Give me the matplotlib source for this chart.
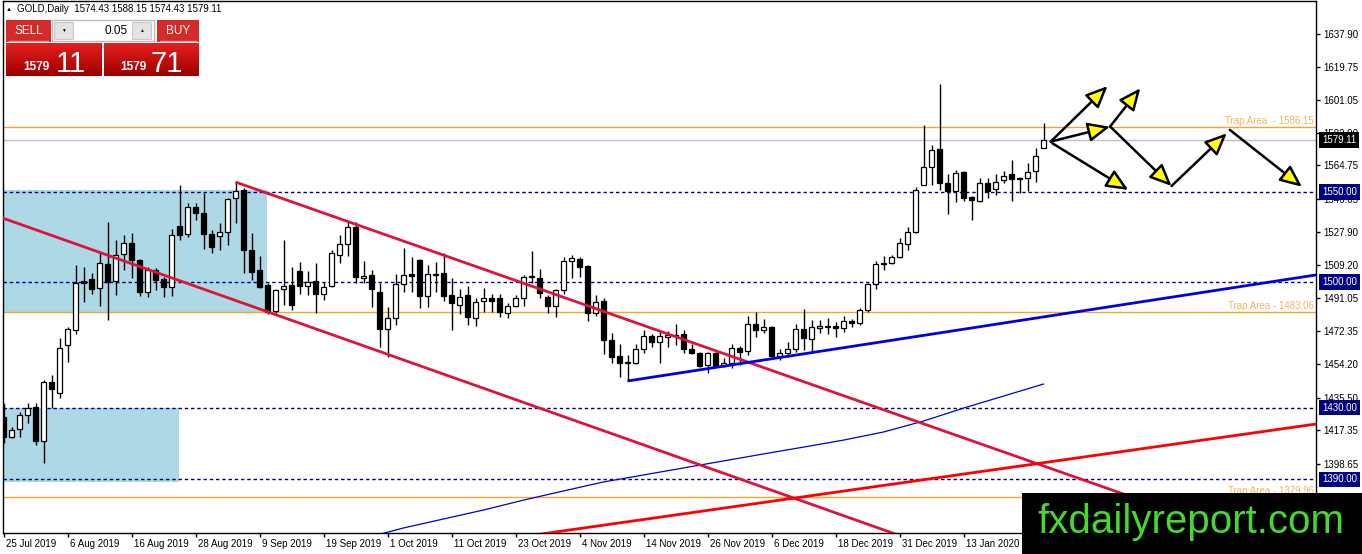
import numpy as np
import matplotlib.pyplot as plt
import matplotlib.transforms as mtransforms
from matplotlib.patches import Rectangle

plt.rcParams['font.family'] = ['Liberation Sans', 'DejaVu Sans']

# GOLD daily candles, 25 Jul 2019 .. 27 Jan 2020
opens = [1424.7, 1413.6, 1418.1, 1425.8, 1430.3, 1411.4, 1444.2, 1438.1, 1464.8, 1473.2,
         1500.4, 1501.5, 1496.5, 1509.9, 1500.4, 1515.5, 1521.6, 1512.1, 1494.3, 1506.5,
         1501.5, 1497.1, 1531.0, 1526.6, 1541.6, 1538.3, 1526.6, 1525.4, 1527.7, 1546.6,
         1551.1, 1517.7, 1506.5, 1498.2, 1483.8, 1495.9, 1498.2, 1506.0, 1497.6, 1500.4,
         1493.2, 1497.6, 1514.9, 1521.0, 1530.5, 1502.1, 1503.8, 1494.3, 1473.7, 1479.8,
         1498.7, 1504.3, 1512.1, 1492.1, 1504.3, 1504.9, 1492.6, 1487.1, 1492.6, 1479.8,
         1489.3, 1491.0, 1491.0, 1482.6, 1486.5, 1491.0, 1502.7, 1502.1, 1491.5, 1486.5,
         1495.4, 1511.5, 1512.6, 1508.8, 1482.6, 1489.3, 1467.6, 1458.7, 1455.3, 1454.8,
         1462.6, 1469.8, 1466.5, 1469.3, 1470.4, 1470.9, 1462.6, 1460.3, 1453.7, 1460.3,
         1453.1, 1454.8, 1463.1, 1461.5, 1476.5, 1473.2, 1474.8, 1458.7, 1460.3, 1462.6,
         1473.7, 1468.1, 1474.3, 1475.0, 1475.4, 1474.3, 1478.2, 1477.1, 1484.3, 1498.7,
         1510.4, 1510.4, 1513.8, 1521.0, 1527.7, 1553.9, 1563.9, 1573.9, 1555.0, 1550.5,
         1561.1, 1547.2, 1544.9, 1555.0, 1551.6, 1556.6, 1560.0, 1557.7, 1557.7, 1561.6,
         1574.43]
highs = [1432.5, 1419.2, 1427.5, 1432.5, 1432.5, 1445.3, 1448.1, 1468.7, 1474.8, 1509.3,
         1508.2, 1504.9, 1516.0, 1533.3, 1523.2, 1526.0, 1527.1, 1512.5, 1508.2, 1507.6,
         1502.6, 1529.4, 1553.9, 1543.8, 1543.8, 1549.4, 1528.8, 1532.7, 1546.8, 1555.5,
         1552.2, 1527.1, 1514.3, 1499.3, 1495.9, 1523.2, 1508.2, 1511.0, 1506.0, 1510.4,
         1499.9, 1517.7, 1526.0, 1533.3, 1533.3, 1511.5, 1506.5, 1499.3, 1485.9, 1504.3,
         1518.8, 1513.8, 1512.6, 1509.3, 1511.0, 1516.0, 1502.1, 1496.0, 1497.6, 1491.0,
         1496.5, 1493.2, 1493.2, 1488.2, 1492.6, 1503.8, 1517.1, 1507.1, 1492.6, 1495.9,
         1513.8, 1514.9, 1513.8, 1509.3, 1492.6, 1491.0, 1471.5, 1465.4, 1459.3, 1465.4,
         1473.2, 1470.9, 1472.1, 1472.6, 1476.6, 1473.2, 1465.4, 1460.9, 1460.9, 1460.9,
         1457.6, 1465.4, 1464.3, 1480.9, 1483.2, 1479.3, 1475.4, 1462.6, 1466.5, 1476.5,
         1484.9, 1478.7, 1478.7, 1479.8, 1477.6, 1480.9, 1479.3, 1485.4, 1499.3, 1511.5,
         1514.3, 1514.9, 1524.3, 1530.5, 1552.7, 1587.3, 1576.1, 1610.1, 1560.0, 1562.2,
         1561.5, 1547.7, 1557.7, 1557.7, 1560.0, 1561.6, 1567.8, 1558.3, 1566.1, 1574.4,
         1588.15]
lows = [1410.2, 1413.0, 1413.6, 1421.4, 1409.1, 1399.1, 1429.7, 1435.3, 1455.3, 1470.9,
        1488.7, 1493.2, 1486.5, 1478.7, 1492.6, 1506.5, 1502.1, 1492.1, 1491.5, 1495.4,
        1491.5, 1492.1, 1523.2, 1524.9, 1534.4, 1518.2, 1516.0, 1517.7, 1520.4, 1532.7,
        1504.9, 1501.0, 1496.5, 1482.0, 1482.7, 1487.1, 1484.3, 1493.2, 1492.6, 1482.6,
        1489.9, 1497.1, 1510.4, 1514.3, 1499.3, 1499.3, 1485.9, 1463.7, 1458.1, 1475.7,
        1494.3, 1494.3, 1485.4, 1485.9, 1494.3, 1489.4, 1473.2, 1482.1, 1475.9, 1475.4,
        1483.2, 1483.2, 1480.4, 1479.8, 1485.9, 1486.5, 1499.3, 1491.0, 1482.6, 1480.4,
        1493.2, 1502.1, 1502.6, 1478.2, 1481.0, 1459.8, 1454.8, 1447.0, 1444.8, 1454.2,
        1460.3, 1463.7, 1454.8, 1463.7, 1464.8, 1460.3, 1459.8, 1452.6, 1449.2, 1452.6,
        1452.6, 1452.0, 1453.7, 1459.3, 1469.3, 1471.5, 1457.6, 1456.5, 1458.1, 1460.9,
        1462.0, 1460.9, 1471.5, 1471.0, 1469.3, 1472.1, 1474.8, 1475.9, 1483.2, 1496.0,
        1506.5, 1509.9, 1513.2, 1517.7, 1527.1, 1553.9, 1553.9, 1551.1, 1537.7, 1544.4,
        1544.9, 1534.4, 1544.4, 1546.6, 1548.3, 1554.9, 1544.9, 1549.4, 1550.5, 1555.5,
        1574.43]
closes = [1413.6, 1417.5, 1425.8, 1429.7, 1411.4, 1444.2, 1440.3, 1463.1, 1473.7, 1499.3,
          1499.3, 1496.0, 1510.4, 1499.9, 1514.9, 1521.6, 1512.1, 1494.3, 1506.5, 1501.0,
          1497.1, 1526.0, 1526.0, 1541.6, 1538.3, 1526.6, 1519.3, 1527.7, 1546.0, 1550.5,
          1517.7, 1505.4, 1497.1, 1483.2, 1495.4, 1497.6, 1487.1, 1497.6, 1499.9, 1493.2,
          1497.1, 1516.0, 1521.0, 1530.5, 1502.7, 1503.2, 1496.0, 1473.7, 1479.8, 1498.7,
          1503.8, 1503.2, 1492.1, 1504.3, 1503.8, 1492.1, 1488.2, 1491.5, 1480.4, 1488.7,
          1491.0, 1489.3, 1483.2, 1486.5, 1491.0, 1502.7, 1503.2, 1493.7, 1486.5, 1495.4,
          1511.5, 1513.2, 1508.2, 1482.6, 1488.7, 1467.6, 1458.1, 1454.8, 1454.8, 1462.6,
          1469.8, 1466.5, 1469.8, 1470.4, 1469.8, 1462.6, 1460.3, 1453.1, 1460.3, 1453.1,
          1454.8, 1463.1, 1460.9, 1476.5, 1473.2, 1474.8, 1458.7, 1460.3, 1462.6, 1473.7,
          1468.7, 1474.8, 1475.4, 1475.6, 1474.3, 1478.2, 1477.1, 1484.3, 1498.7, 1509.9,
          1509.9, 1513.8, 1521.6, 1527.7, 1551.1, 1563.9, 1573.3, 1555.0, 1550.5, 1560.5,
          1546.6, 1545.5, 1555.0, 1550.5, 1555.5, 1558.9, 1557.2, 1557.2, 1561.1, 1570.0,
          1579.11]

date_pos = [0, 8, 16, 24, 32, 40, 48, 56, 64, 72, 80, 88, 96, 104, 112, 120]
date_labels = ["25 Jul 2019", "6 Aug 2019", "16 Aug 2019", "28 Aug 2019", "9 Sep 2019",
               "19 Sep 2019", "1 Oct 2019", "11 Oct 2019", "23 Oct 2019", "4 Nov 2019",
               "14 Nov 2019", "26 Nov 2019", "6 Dec 2019", "18 Dec 2019", "31 Dec 2019",
               "13 Jan 2020"]

price_ticks = [1637.90, 1619.75, 1601.05, 1582.90, 1564.75, 1546.05, 1527.90, 1509.20,
               1491.05, 1472.35, 1454.20, 1435.50, 1417.35, 1398.65, 1380.50]

dashed_levels = [1550.00, 1500.00, 1430.00, 1390.00]
trap_levels = [1586.15, 1483.06, 1379.96]
trap_texts = ["Trap Area  - 1586.15", "Trap Area - 1483.06", "Trap Area - 1379.96"]
last_price = 1579.11

# moving average (thin blue)
ma_bars = [47, 50, 55, 60, 65, 70, 75, 80, 85, 90, 95, 100, 105, 110, 115, 120, 125, 130]
ma_vals = [1359.5, 1363.0, 1368.0, 1373.0, 1378.5, 1383.6, 1388.6, 1392.5, 1396.4, 1400.3,
           1404.2, 1408.0, 1411.9, 1416.4, 1422.5, 1429.7, 1436.4, 1443.1]

# boxes: (bar_from, bar_to, price_low, price_high)
zones = [(-5, 32.9, 1483.06, 1551.0), (-5, 21.9, 1388.6, 1430.0)]

# trendlines: two anchors (bar, price), colour, width, extend to the left
trendlines = [
    (0, 1535.3, 33, 1483.3, '#DC143C', 2, True),
    (29, 1555.5, 139.6, 1382.5, '#DC143C', 2, False),
    (78, 1444.8, 120, 1473.6, '#0000E0', 2, False),
    (68.9, 1360.7, 120, 1393.0, '#FF0000', 2, True),
]

# scenario arrows (bar, price) -> (bar, price)
arrows = [
    (130.9, 1578.0, 138.0, 1608.9),
    (130.9, 1578.0, 138.3, 1586.3),
    (131.1, 1577.1, 140.6, 1551.1),
    (138.3, 1586.3, 142.1, 1607.7),
    (138.4, 1586.1, 146.0, 1553.3),
    (146.0, 1553.3, 152.9, 1582.6),
    (153.3, 1584.5, 162.3, 1552.9),
]

W, H = 1362, 554
fig = plt.figure(figsize=(W / 100, H / 100), dpi=100)
ax = fig.add_axes([2.5 / W, (H - 533) / H, (1316 - 2.5) / W, 532 / H])
xmin, xmax = -0.125, 164.06
ax.set_xlim(xmin, xmax)
ax.set_ylim(1360.2, 1656.26)

for b0, b1, lo, hi in zones:
    ax.add_patch(Rectangle((b0, lo), b1 - b0, hi - lo, fc='#ADD8E6', ec='none', zorder=0.5))

for lv in dashed_levels:
    ax.axhline(lv, color='#000080', lw=1, ls=(0, (2.5, 2)), zorder=1)
for lv, txt in zip(trap_levels, trap_texts):
    ax.axhline(lv, color='#F4A62A', lw=1, zorder=1)
    ax.text(163.8, lv + 0.8, txt, ha='right', va='bottom', fontsize=7, color='#F3B55C', zorder=5)
ax.axhline(last_price, color='#C0C0C0', lw=1, zorder=1)

ax.plot(ma_bars, ma_vals, color='#0000CD', lw=0.9, zorder=1.5)

# candles
o = np.array(opens)
c = np.array(closes)
x = np.arange(len(o))
up = c >= o
ax.vlines(x, lows, highs, color='black', lw=1, zorder=3)
lo_b = np.minimum(o, c)
h_b = np.maximum(np.abs(c - o), 0.45)
ax.bar(x[up], h_b[up], bottom=lo_b[up], width=0.62, color='white', edgecolor='black', lw=0.9, zorder=4)
ax.bar(x[~up], h_b[~up], bottom=lo_b[~up], width=0.62, color='black', edgecolor='black', lw=0.9, zorder=4)

for b0, p0, b1, p1, col, lw, left in trendlines:
    k = (p1 - p0) / (b1 - b0)
    start = xmin - 1 if left else b0
    end = xmax + 1
    ax.plot([start, end], [p0 + k * (start - b0), p0 + k * (end - b0)], color=col, lw=lw,
            zorder=5, solid_capstyle='butt')

for b0, p0, b1, p1 in arrows:
    ax.annotate('', xy=(b1, p1), xytext=(b0, p0),
                arrowprops=dict(arrowstyle='-|>,head_length=0.95,head_width=0.42', fc='#FFFF00',
                                ec='black', lw=1.8, mutation_scale=14, shrinkA=0, shrinkB=0),
                zorder=6)

# axes styling like the terminal
for s in ax.spines.values():
    s.set_color('black')
    s.set_linewidth(1)
ax.yaxis.tick_right()
ax.set_yticks(price_ticks)
ax.set_yticklabels([f'{v:.2f}' for v in price_ticks])
ax.tick_params(axis='y', direction='out', length=3, width=1, pad=2.5, labelsize=7)
ax.set_xticks(date_pos)
ax.set_xticklabels(date_labels)
ax.tick_params(axis='x', direction='out', length=3, width=1, pad=1.5, labelsize=7)
shift = mtransforms.ScaledTranslation(2 / 100, 0, fig.dpi_scale_trans)
for lbl in ax.get_xticklabels():
    lbl.set_ha('left')
    lbl.set_transform(lbl.get_transform() + shift)

ytr = ax.get_yaxis_transform()
for lv in dashed_levels:
    ax.text(1.0045, lv, f'{lv:.2f}', transform=ytr, ha='left', va='center', fontsize=7,
            color='white', clip_on=False, zorder=10,
            bbox=dict(boxstyle='square,pad=0.3', fc='#000080', ec='none'))
ax.text(1.0045, last_price, f'{last_price:.2f}', transform=ytr, ha='left', va='center',
        fontsize=7, color='white', clip_on=False, zorder=10,
        bbox=dict(boxstyle='square,pad=0.3', fc='black', ec='none'))

# overlay in pixel units for the terminal widgets and watermark
ov = fig.add_axes([0, 0, 1, 1], zorder=10)
ov.set_axis_off()
ov.patch.set_alpha(0)


def box(x0, y0, x1, y1, **kw):
    ov.add_patch(Rectangle((x0, y0), x1 - x0, y1 - y0, **kw))


ov.text(6, 9.5, '\u25b2', fontsize=4.5, va='center', ha='left')
ov.text(17, 9.5, 'GOLD,Daily  1574.43 1588.15 1574.43 1579.11', fontsize=7, va='center', ha='left')

box(6, 20, 51, 42, fc='#D42A2A', ec='none')
ov.plot([9, 48], [40.5, 40.5], color='#F39A9A', lw=1)
ov.text(28.5, 31, 'SELL', color='white', fontsize=8.5, ha='center', va='center')
box(52, 20, 154, 41, fc='white', ec='#BDBDBD', lw=1)
box(54, 22, 73, 39, fc='#E4E4E4', ec='#C8C8C8', lw=0.8)
box(132, 22, 151, 39, fc='#E4E4E4', ec='#C8C8C8', lw=0.8)
ov.text(63.5, 30.5, '\u25bc', fontsize=3.5, ha='center', va='center')
ov.text(141.5, 30, '\u25b2', fontsize=3.5, ha='center', va='center')
ov.text(128, 30.5, '0.05', fontsize=8.5, ha='right', va='center')
box(157, 20, 199, 42, fc='#D42A2A', ec='none')
ov.plot([160, 196], [40.5, 40.5], color='#F39A9A', lw=1)
ov.text(178, 31, 'BUY', color='white', fontsize=8.5, ha='center', va='center')

grad = np.linspace(0, 1, 40)[:, None, None] * (np.array([0.62, 0.0, 0.0]) - np.array([0.90, 0.12, 0.12])) \
    + np.array([0.90, 0.12, 0.12])
for x0, x1 in [(6, 102), (104, 199)]:
    ov.imshow(grad, extent=(x0, x1, 76, 43), aspect='auto', interpolation='bilinear', zorder=1)
ov.text(23, 70.5, '1579', color='white', fontsize=8.5, fontweight='bold', ha='left', va='baseline', zorder=2)
ov.text(56, 71.5, '11', color='white', fontsize=21, ha='left', va='baseline', zorder=2)
ov.text(120, 70.5, '1579', color='white', fontsize=8.5, fontweight='bold', ha='left', va='baseline', zorder=2)
ov.text(151, 71.5, '71', color='white', fontsize=21, ha='left', va='baseline', zorder=2)

box(1022, 493, W, H, fc='black', ec='none', zorder=3)
ov.text(1191, 522, 'fxdailyreport.com', color='#46D82C', fontsize=29, ha='center', va='center', zorder=4)

ov.set_xlim(0, W)
ov.set_ylim(H, 0)

fig.savefig('out.png', dpi=100, facecolor='white')
